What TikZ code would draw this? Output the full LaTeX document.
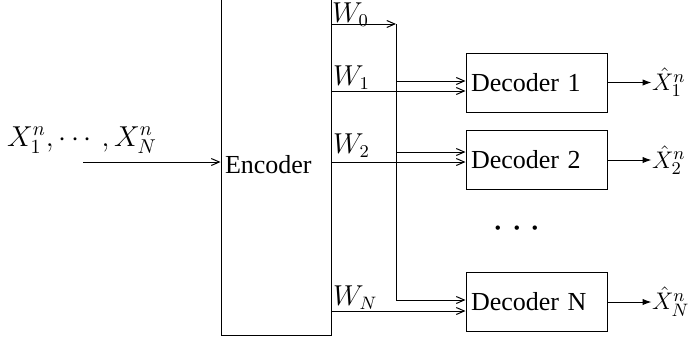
\documentclass[tikz,border=0pt]{standalone}
\usepackage{fontspec}
\setmainfont{Liberation Serif}
\usetikzlibrary{arrows.meta,calc,positioning}
\tikzset{blk/.style={draw, line width=0.5pt, minimum width=70.5pt, minimum height=29.5pt, inner xsep=2.5pt, inner ysep=0pt,
    text width=65.5pt, align=left},
  wire/.style={-{Straight Barb[length=4pt, width=3.5pt]}, line width=0.5pt},
  outw/.style={-{Latex[length=4.5pt, width=3.2pt]}, line width=0.5pt},
  mlab/.style={font=\fontsize{13.5}{15}\selectfont}}

\begin{document}
\begin{tikzpicture}[x=0.5pt, y=-0.5pt, font=\fontsize{13}{15}\selectfont]
  \useasboundingbox (0,0) rectangle (689,343);
  \node[blk, minimum width=55pt, text width=51pt, inner xsep=2pt, minimum height=170pt] (enc) at (276,165) {Encoder};
  \node[blk] (dec1) at (536.5,82.5) {Decoder 1};
  \node[blk] (dec2) at (536.5,160)  {Decoder 2};
  \node[blk] (decN) at (536.5,302)  {Decoder N};
  \node[font=\fontsize{20}{22}\selectfont] (dots) at (517,229) {$\cdots$};
  % source input
  \coordinate (src) at (83,162);
  \node[font=\fontsize{14}{16}\selectfont] (srclab) at (82,140) {$X_1^n, \cdots\,, X_N^n$};
  \draw[wire] (src) -- (enc.west |- src);
  % common message W_0 on the bus
  \coordinate (bustop) at (396,24);
  \coordinate (busbot) at (396,300);
  \draw[wire] (enc.east |- bustop) node[mlab, above right, inner sep=0pt, yshift=-1.5pt]{$W_0$} -- (bustop);
  \draw[line width=0.5pt] (bustop) -- (busbot);
  \draw[wire] (bustop |- 0,81)  -- (dec1.west |- 0,81);
  \draw[wire] (bustop |- 0,152) -- (dec2.west |- 0,152);
  \draw[wire] (busbot) -- (decN.west |- busbot);
  % private messages
  \draw[wire] (enc.east |- 0,91)  node[mlab, above right, inner sep=0.5pt]{$W_1$} -- (dec1.west |- 0,91);
  \draw[wire] (enc.east |- 0,162) node[mlab, above right, inner sep=0.5pt, yshift=1.5pt]{$W_2$} -- (dec2.west |- 0,162);
  \draw[wire] (enc.east |- 0,311) node[mlab, above right, inner sep=0.5pt]{$W_N$} -- (decN.west |- 0,311);
  % reconstructions
  \draw[outw] (dec1.east) -- ++(44,0) node[right, inner sep=0pt]{$\hat{X}_1^n$};
  \draw[outw] (dec2.east) -- ++(44,0) node[right, inner sep=0pt]{$\hat{X}_2^n$};
  \draw[outw] (decN.east) -- ++(44,0) node[right, inner sep=0pt]{$\hat{X}_N^n$};
\end{tikzpicture}
\end{document}
